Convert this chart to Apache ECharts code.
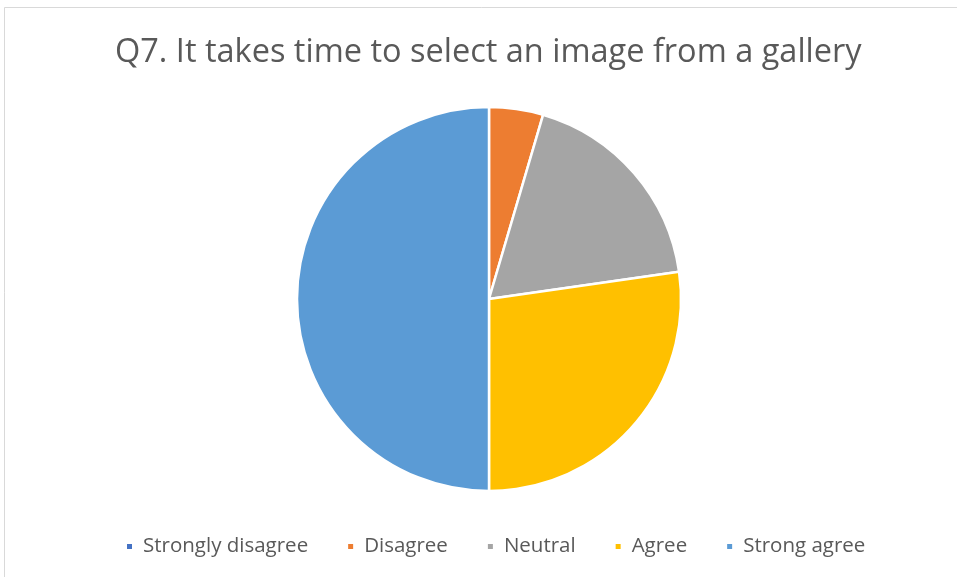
<!DOCTYPE html>
<html>
<head>
<meta charset="utf-8">
<script src="https://cdn.jsdelivr.net/npm/echarts@6/dist/echarts.min.js"></script>
<style>
  html, body { margin: 0; padding: 0; background: #fff; }
  #chart { width: 957px; height: 577px; }
</style>
</head>
<body>
<div id="chart"></div>
<script>
// Survey responses for Q7
const categories = ['Strongly disagree', 'Disagree', 'Neutral', 'Agree', 'Strong agree'];
const counts = [0, 1, 4, 6, 11];
const colors = ['#4472C4', '#ED7D31', '#A5A5A5', '#FFC000', '#5B9BD5'];
const titleText = 'Q7. It takes time to select an image from a gallery';

const chart = echarts.init(document.getElementById('chart'));
chart.setOption({
  animation: false,
  backgroundColor: '#ffffff',
  graphic: [{
    type: 'rect',
    shape: { x: 4.5, y: 7.5, width: 960, height: 580 },
    style: { fill: 'none', stroke: '#d9d9d9', lineWidth: 1 },
    silent: true
  }],
  title: {
    text: titleText,
    left: 110,
    top: 31,
    textStyle: {
      fontFamily: 'Open Sans',
      fontWeight: 'normal',
      fontSize: 32.5,
      color: '#595959'
    }
  },
  legend: {
    top: 531,
    left: 120,
    icon: 'rect',
    itemWidth: 7,
    itemHeight: 7,
    itemGap: 38,
    textStyle: {
      fontFamily: 'Open Sans',
      fontSize: 20.5,
      color: '#595959',
      padding: [0, 0, 0, 5]
    },
    data: categories
  },
  color: colors,
  series: [{
    type: 'pie',
    center: [489, 299],
    radius: [0, 192],
    startAngle: 90,
    clockwise: true,
    label: { show: false },
    labelLine: { show: false },
    itemStyle: { borderColor: '#ffffff', borderWidth: 2.5 },
    data: categories.map((name, i) => ({ name: name, value: counts[i] }))
  }]
});
</script>
</body>
</html>
